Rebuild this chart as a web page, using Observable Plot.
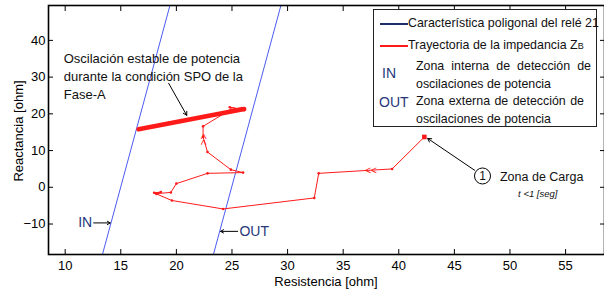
<!DOCTYPE html>
<html>
<head>
<meta charset="utf-8">
<script src="https://cdn.jsdelivr.net/npm/d3@7"></script>
<script src="https://cdn.jsdelivr.net/npm/@observablehq/plot@0.6"></script>
<style>
  body { margin: 0; background: #fff; }
  #wrap { position: relative; width: 604px; height: 289px; font-family: "Liberation Sans", Arial, sans-serif; }
  .narrow { font-family: "Liberation Sans Narrow", "Arial Narrow", "Liberation Sans", sans-serif; }
  #legend { position: absolute; left: 373px; top: 9px; width: 224px; height: 118px; border: 1px solid #222; background: #fff; box-sizing: border-box; font-size: 12.4px; color: #111; }
  #legend .ln { position: absolute; left: 6px; width: 28px; height: 0; border-top: 2px solid; }
  #legend .t { position: absolute; white-space: nowrap; line-height: 1; }
  #legend .tag { position: absolute; color: #26377a; font-size: 14px; line-height: 1; }
  .ylab { position: absolute; left: 18px; top: 131px; transform: translate(-50%, -50%) rotate(-90deg); font-size: 13px; white-space: nowrap; }
  .xlab { position: absolute; left: 326px; top: 281px; transform: translate(-50%, -50%); font-size: 13px; white-space: nowrap; }
</style>
</head>
<body>
<div id="wrap"></div>
<script>
// ---- data ----
const xTicks = [10, 15, 20, 25, 30, 35, 40, 45, 50, 55];
const yTicks = [-10, 0, 10, 20, 30, 40];

// relay polygonal characteristic (two boundary lines)
const inLineR = [13.35, 19.42];
const inLineX = [-18.3, 49.5];
const outLineR = [23.33, 29.40];
const outLineX = [-18.3, 49.5];

// impedance trajectory Z_B
const trajR = [42.3, 39.4, 32.8, 32.4, 24.2, 19.6, 18.2, 18.0, 18.6, 18.3, 19.5, 20.0, 22.8, 26.0, 24.9, 22.8, 22.4, 22.4, 24.9, 25.9, 26.1, 24.8, 25.6];
const trajX = [13.7, 5.0, 3.8, -2.9, -5.9, -3.6, -1.8, -1.5, -1.3, -1.7, -1.4, 1.0, 3.8, 4.0, 4.8, 9.6, 13.7, 16.6, 21.2, 21.6, 21.0, 21.8, 21.4];

// stable power swing band (SPO condition)
const bandR = [16.6, 26.1];
const bandX = [15.8, 21.3];

// direction chevrons on trajectory
const chevR = [37.5, 22.4];
const chevX = [4.6, 13.0];
const chevRot = [0, 90];

// annotations
const spoText = "Oscilación estable de potencia\ndurante la condición SPO de la\nFase-A";
const spoPos = [9.87, 37.1];
const spoArrow = [19.31, 28.3, 20.93, 19.6];
const inLabel = [11.8, -9.7];
const inArrow = [12.56, -9.7, 14.05, -9.7];
const outLabel = [27.0, -12.0];
const outArrow = [25.51, -12.0, 23.98, -12.0];
const loadCircle = [47.53, 3.08];
const loadArrow = [46.82, 4.63, 42.6, 13.3];
const loadText = [49.1, 2.72];
const loadSub = [52.5, -1.9];

const traj = trajR.map((r, i) => ({r, x: trajX[i]}));
const band = bandR.map((r, i) => ({r, x: bandX[i]}));
const chev = chevR.map((r, i) => ({r, x: chevX[i], rot: chevRot[i]}));
const lineIn = inLineR.map((r, i) => ({r, x: inLineX[i]}));
const lineOut = outLineR.map((r, i) => ({r, x: outLineX[i]}));

const blue = "#4b5cf2";
const red = "#ff1a1a";
const navy = "#26377a";
const narrow = '"Liberation Sans Narrow", "Arial Narrow", "Liberation Sans", sans-serif';

const plot = Plot.plot({
  width: 604,
  height: 289,
  marginLeft: 48,
  marginRight: 0,
  marginTop: 5,
  marginBottom: 35,
  style: {fontFamily: '"Liberation Sans", Arial, sans-serif', fontSize: "13px", background: "white", color: "black"},
  x: {domain: [8.5, 58.5]},
  y: {domain: [-18.3, 49.5]},
  marks: [
    Plot.line(lineIn, {x: "r", y: "x", stroke: blue, strokeWidth: 1, clip: true}),
    Plot.line(lineOut, {x: "r", y: "x", stroke: blue, strokeWidth: 1, clip: true}),
    Plot.line(traj, {x: "r", y: "x", stroke: red, strokeWidth: 1}),
    Plot.dot(traj, {x: "r", y: "x", r: 1.3, fill: red, stroke: null}),
    Plot.line(band, {x: "r", y: "x", stroke: red, strokeWidth: 4.5}),
    Plot.dot([traj[0]], {x: "r", y: "x", symbol: "square", r: 2.6, fill: red, stroke: null}),
    Plot.text(chev, {x: "r", y: "x", rotate: "rot", text: () => "<<", fill: red, fontSize: 10, fontFamily: narrow}),
    // SPO annotation
    Plot.text([spoText], {x: spoPos[0], y: spoPos[1], text: d => d, textAnchor: "start", lineAnchor: "top", lineHeight: 1.35, fontSize: 13, fontFamily: narrow, fill: "#111"}),
    Plot.arrow([spoArrow], {x1: d => d[0], y1: d => d[1], x2: d => d[2], y2: d => d[3], stroke: "black", strokeWidth: 1, headLength: 6}),
    // IN / OUT
    Plot.text([inLabel], {x: d => d[0], y: d => d[1], text: () => "IN", fill: navy, fontSize: 14, fontFamily: narrow}),
    Plot.arrow([inArrow], {x1: d => d[0], y1: d => d[1], x2: d => d[2], y2: d => d[3], stroke: "black", strokeWidth: 1, headLength: 5}),
    Plot.text([outLabel], {x: d => d[0], y: d => d[1], text: () => "OUT", fill: navy, fontSize: 14, fontFamily: narrow}),
    Plot.arrow([outArrow], {x1: d => d[0], y1: d => d[1], x2: d => d[2], y2: d => d[3], stroke: "black", strokeWidth: 1, headLength: 5}),
    // Load zone
    Plot.arrow([loadArrow], {x1: d => d[0], y1: d => d[1], x2: d => d[2], y2: d => d[3], stroke: "black", strokeWidth: 1, headLength: 6}),
    Plot.dot([loadCircle], {x: d => d[0], y: d => d[1], r: 8, stroke: "black", fill: "white", strokeWidth: 1}),
    Plot.text([loadCircle], {x: d => d[0], y: d => d[1], text: () => "1", fontSize: 12, fontFamily: narrow, fill: "#111"}),
    Plot.text([loadText], {x: d => d[0], y: d => d[1], text: () => "Zona de Carga", textAnchor: "start", fontSize: 12.5, fontFamily: narrow, fill: "#111"}),
    Plot.text([loadSub], {x: d => d[0], y: d => d[1], text: () => "t <1 [seg]", fontSize: 9.5, fontStyle: "italic", fontFamily: narrow, fill: "#111"}),
    // axes
    Plot.axisX(xTicks, {anchor: "bottom", tickSize: -5, tickPadding: 11, label: null}),
    Plot.axisX(xTicks, {anchor: "top", tickSize: -5, tickFormat: () => "", label: null}),
    Plot.axisY(yTicks, {anchor: "left", tickSize: -5, tickPadding: 8, label: null}),
    Plot.axisY(yTicks, {anchor: "right", tickSize: -5, tickFormat: () => "", label: null}),
    Plot.frame({stroke: "black", strokeWidth: 1.6})
  ]
});

const wrap = document.getElementById("wrap");
wrap.appendChild(plot);

const xl = document.createElement("div");
xl.className = "xlab"; xl.textContent = "Resistencia [ohm]";
wrap.appendChild(xl);
const yl = document.createElement("div");
yl.className = "ylab"; yl.textContent = "Reactancia [ohm]";
wrap.appendChild(yl);

const leg = document.createElement("div");
leg.id = "legend";
leg.className = "narrow";
leg.innerHTML = `
  <div class="ln" style="top:13px;border-color:#1f2d6b"></div>
  <div class="t" style="left:34px;top:7px">Característica poligonal del relé 21</div>
  <div class="ln" style="top:35px;border-color:${red}"></div>
  <div class="t" style="left:34px;top:29px">Trayectoria de la impedancia Z<span style="font-size:9px">B</span></div>
  <div class="tag" style="left:8px;top:56px">IN</div>
  <div class="t" style="left:42px;top:50px;width:175px;text-align:justify;text-align-last:justify">Zona interna de detección de</div>
  <div class="t" style="left:42px;top:68px">oscilaciones de potencia</div>
  <div class="tag" style="left:5px;top:85px">OUT</div>
  <div class="t" style="left:42px;top:85px;width:168px;text-align:justify;text-align-last:justify">Zona externa de detección de</div>
  <div class="t" style="left:42px;top:103px">oscilaciones de potencia</div>
`;
wrap.appendChild(leg);
</script>
</body>
</html>
